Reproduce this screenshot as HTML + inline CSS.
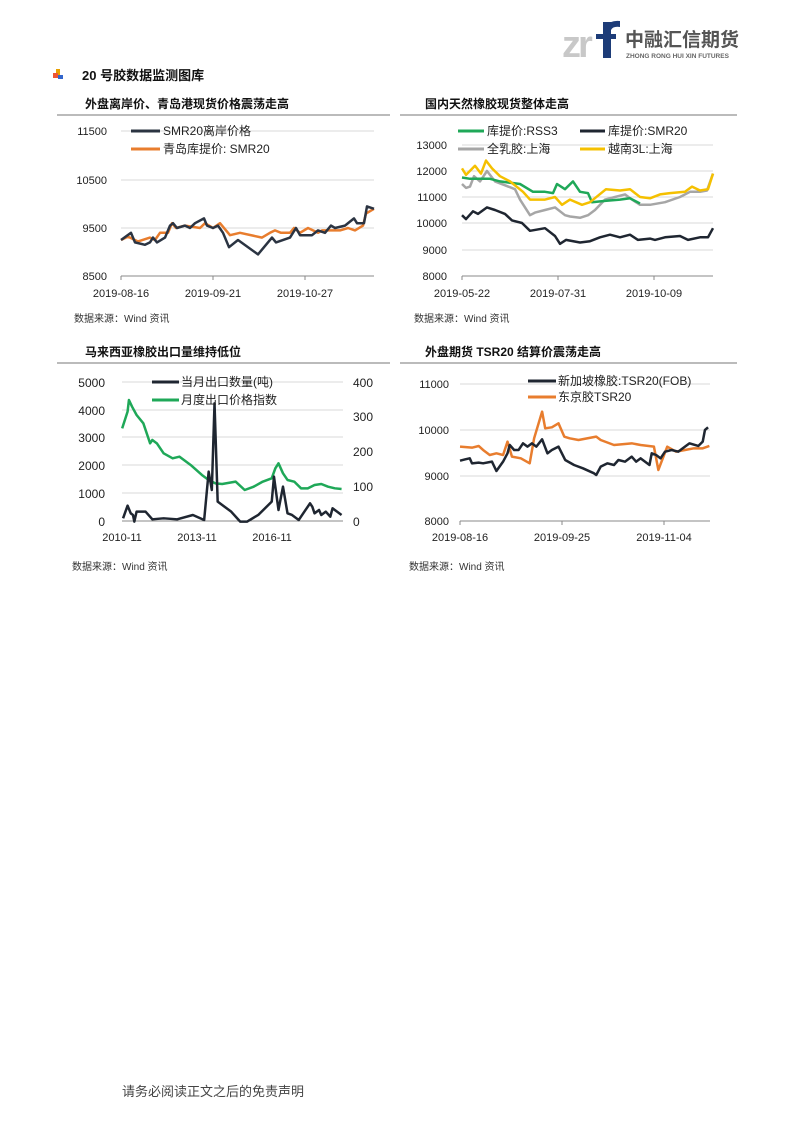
<!DOCTYPE html>
<html><head><meta charset="utf-8"><style>
body{margin:0;background:#fff}
svg{display:block}
text{font-family:"Liberation Sans","Noto Sans CJK SC",sans-serif}
.t{font-size:11px;fill:#222}
.h{font-size:12px;font-weight:bold;fill:#111}
.s{font-size:10px;fill:#333}
.g{stroke:#d9d9d9;stroke-width:1}
.l{fill:none;stroke-width:2.5;stroke-linejoin:round;vector-effect:non-scaling-stroke}
</style></head><body>
<svg width="794" height="1123" viewBox="0 0 794 1123">
<!-- logo -->
<text x="562" y="57" style="font-size:38px;font-weight:bold;fill:#c8c8c8;letter-spacing:-3px">zr</text>
<rect x="603" y="22" width="8" height="36" fill="#1d3c78"/>
<rect x="596" y="34" width="20" height="5" fill="#1d3c78"/>
<path d="M607 26 Q610 20 620 21 L620 27 Q613 26 611 30Z" fill="#1d3c78"/>
<text x="625" y="46" style="font-size:19px;font-weight:bold;fill:#555">中融汇信期货</text>
<text x="626" y="58" style="font-size:6.5px;font-weight:bold;fill:#666">ZHONG RONG HUI XIN FUTURES</text>
<!-- section -->
<rect x="56" y="69" width="4" height="8" fill="#e8a000"/><rect x="53" y="73" width="5" height="5" fill="#e53"/><rect x="58" y="75" width="5" height="4" fill="#36c"/>
<text x="82" y="80" style="font-size:13px;font-weight:bold;fill:#111">20 号胶数据监测图库</text>

<!-- chart 1 -->
<text x="85" y="108" class="h">外盘离岸价、青岛港现货价格震荡走高</text>
<line x1="57" y1="115" x2="390" y2="115" stroke="#777"/>
<g class="g"><line x1="121" y1="131" x2="374" y2="131"/><line x1="121" y1="180" x2="374" y2="180"/><line x1="121" y1="228" x2="374" y2="228"/></g>
<line x1="121" y1="276" x2="374" y2="276" stroke="#888"/>
<g stroke="#888"><line x1="121" y1="276" x2="121" y2="280"/><line x1="213" y1="276" x2="213" y2="280"/><line x1="305" y1="276" x2="305" y2="280"/></g>
<g class="t" text-anchor="end"><text x="107" y="135">11500</text><text x="107" y="184">10500</text><text x="107" y="232">9500</text><text x="107" y="280">8500</text></g>
<g class="t" text-anchor="middle"><text x="121" y="297">2019-08-16</text><text x="213" y="297">2019-09-21</text><text x="305" y="297">2019-10-27</text></g>
<g transform="matrix(1 0 0 -0.048 0 684)">
<polyline class="l" stroke="#e87d2e" points="121,9250 128,9320 138,9220 150,9300 155,9250 160,9400 168,9400 172,9600 176,9500 185,9550 200,9500 205,9600 213,9500 220,9600 230,9350 240,9400 262,9300 270,9400 275,9450 281,9400 290,9400 294,9500 300,9400 308,9500 318,9400 322,9450 340,9450 348,9500 355,9450 363,9550 366,9800 374,9900"/>
<polyline class="l" stroke="#2b3442" points="121,9250 131,9400 135,9200 145,9150 150,9200 153,9300 157,9200 165,9300 170,9550 173,9600 177,9500 185,9550 190,9500 195,9600 204,9700 207,9550 213,9500 218,9550 223,9400 229,9100 238,9250 258,8950 264,9100 272,9300 276,9200 290,9300 296,9500 300,9350 312,9350 318,9450 325,9400 331,9550 335,9500 345,9550 354,9700 357,9600 364,9600 367,9950 374,9900"/>
</g>
<line x1="131" y1="131" x2="160" y2="131" stroke="#2b3442" stroke-width="3"/><text x="163" y="135" style="font-size:12px;fill:#222">SMR20离岸价格</text>
<line x1="131" y1="149" x2="160" y2="149" stroke="#e87d2e" stroke-width="3"/><text x="163" y="153" style="font-size:12px;fill:#222">青岛库提价: SMR20</text>
<text x="74" y="322" class="s">数据来源：Wind 资讯</text>

<!-- chart 2 -->
<text x="425" y="108" class="h">国内天然橡胶现货整体走高</text>
<line x1="400" y1="115" x2="737" y2="115" stroke="#777"/>
<g class="g"><line x1="462" y1="145" x2="713" y2="145"/><line x1="462" y1="171" x2="713" y2="171"/><line x1="462" y1="197" x2="713" y2="197"/><line x1="462" y1="223" x2="713" y2="223"/><line x1="462" y1="250" x2="713" y2="250"/></g>
<line x1="462" y1="276" x2="713" y2="276" stroke="#888"/>
<g stroke="#888"><line x1="462" y1="276" x2="462" y2="280"/><line x1="558" y1="276" x2="558" y2="280"/><line x1="654" y1="276" x2="654" y2="280"/></g>
<g class="t" text-anchor="end"><text x="447" y="149">13000</text><text x="447" y="175">12000</text><text x="447" y="201">11000</text><text x="447" y="227">10000</text><text x="447" y="254">9000</text><text x="447" y="280">8000</text></g>
<g class="t" text-anchor="middle"><text x="462" y="297">2019-05-22</text><text x="558" y="297">2019-07-31</text><text x="654" y="297">2019-10-09</text></g>
<g transform="matrix(1 0 0 -0.026 0 483)">
<polyline class="l" stroke="#a6a6a6" points="462,11500 466,11350 470,11400 474,11800 480,11600 487,12000 495,11600 505,11450 515,11300 520,10900 530,10300 535,10400 545,10500 555,10600 565,10300 570,10250 580,10200 588,10300 595,10500 605,10900 615,11000 625,11100 632,10900 640,10700 650,10700 665,10800 680,11000 690,11200 700,11200 707,11250 713,11900"/>
<polyline class="l" stroke="#1fa858" points="462,11750 470,11700 490,11700 500,11600 520,11500 533,11200 545,11200 553,11150 557,11500 565,11300 573,11600 580,11200 588,11150 592,10800 605,10850 620,10900 630,10950 640,10750"/>
<polyline class="l" stroke="#f5c000" points="462,12100 466,11850 475,12200 481,11900 486,12400 492,12100 500,11800 510,11600 523,11200 530,10900 545,10900 555,11000 562,10700 570,10900 582,10700 590,10800 606,11300 620,11250 630,11300 640,11000 650,10950 660,11100 670,11150 685,11200 692,11400 700,11250 708,11300 713,11900"/>
<polyline class="l" stroke="#1f2631" points="462,10300 466,10150 473,10450 478,10350 487,10600 495,10500 505,10350 512,10100 522,10000 530,9700 545,9800 555,9500 560,9200 566,9350 580,9250 590,9300 600,9450 610,9550 620,9450 630,9550 638,9350 650,9400 655,9350 665,9450 680,9500 688,9350 700,9450 708,9450 713,9800"/>
</g>
<line x1="458" y1="131" x2="484" y2="131" stroke="#1fa858" stroke-width="3"/><text x="487" y="135" style="font-size:12px;fill:#222">库提价:RSS3</text>
<line x1="580" y1="131" x2="605" y2="131" stroke="#1f2631" stroke-width="3"/><text x="608" y="135" style="font-size:12px;fill:#222">库提价:SMR20</text>
<line x1="458" y1="149" x2="484" y2="149" stroke="#a6a6a6" stroke-width="3"/><text x="487" y="153" style="font-size:12px;fill:#222">全乳胶:上海</text>
<line x1="580" y1="149" x2="605" y2="149" stroke="#f5c000" stroke-width="3"/><text x="608" y="153" style="font-size:12px;fill:#222">越南3L:上海</text>
<text x="414" y="322" class="s">数据来源：Wind 资讯</text>

<!-- chart 3 -->
<text x="85" y="356" class="h">马来西亚橡胶出口量维持低位</text>
<line x1="57" y1="363" x2="390" y2="363" stroke="#777"/>
<g class="g"><line x1="122" y1="382" x2="343" y2="382"/><line x1="122" y1="410" x2="343" y2="410"/><line x1="122" y1="437" x2="343" y2="437"/><line x1="122" y1="465" x2="343" y2="465"/><line x1="122" y1="493" x2="343" y2="493"/></g>
<line x1="122" y1="521" x2="343" y2="521" stroke="#888"/>
<g style="font-size:12px;fill:#222" text-anchor="end"><text x="105" y="387">5000</text><text x="105" y="415">4000</text><text x="105" y="442">3000</text><text x="105" y="470">2000</text><text x="105" y="498">1000</text><text x="105" y="526">0</text></g>
<g style="font-size:12px;fill:#222"><text x="353" y="387">400</text><text x="353" y="421">300</text><text x="353" y="456">200</text><text x="353" y="491">100</text><text x="353" y="526">0</text></g>
<g class="t" text-anchor="middle"><text x="122" y="541">2010-11</text><text x="197" y="541">2013-11</text><text x="272" y="541">2016-11</text></g>
<g transform="matrix(0.4505 0 0 0.3333 60 340)">
<polyline class="l" stroke="#1fa858" points="138,265 150,215 153,180 160,200 170,225 185,250 195,290 200,310 205,300 215,310 230,340 250,355 265,350 290,375 315,405 330,420 345,430 360,432 390,425 410,450 430,440 450,425 470,415 478,385 485,370 495,400 505,420 520,425 535,445 550,445 565,435 580,432 595,440 610,445 625,447"/>
<polyline class="l" stroke="#1f2631" points="140,535 150,497 157,520 162,525 165,545 170,515 190,515 205,538 230,535 260,538 295,525 320,540 330,395 337,450 343,190 350,485 380,515 400,545 415,545 440,525 470,485 475,410 485,510 495,440 505,520 515,525 530,540 545,510 555,490 560,500 565,520 575,510 580,525 590,515 600,530 605,505 615,515 625,525"/>
</g>
<line x1="152" y1="382" x2="179" y2="382" stroke="#1f2631" stroke-width="3"/><text x="181" y="386" style="font-size:12px;fill:#222">当月出口数量(吨)</text>
<line x1="152" y1="400" x2="179" y2="400" stroke="#1fa858" stroke-width="3"/><text x="181" y="404" style="font-size:12px;fill:#222">月度出口价格指数</text>
<text x="72" y="570" class="s">数据来源：Wind 资讯</text>

<!-- chart 4 -->
<text x="425" y="356" class="h">外盘期货 TSR20 结算价震荡走高</text>
<line x1="400" y1="363" x2="737" y2="363" stroke="#777"/>
<g class="g"><line x1="460" y1="384" x2="710" y2="384"/><line x1="460" y1="430" x2="710" y2="430"/><line x1="460" y1="476" x2="710" y2="476"/></g>
<line x1="460" y1="521" x2="710" y2="521" stroke="#888"/>
<g stroke="#888"><line x1="460" y1="521" x2="460" y2="525"/><line x1="562" y1="521" x2="562" y2="525"/><line x1="664" y1="521" x2="664" y2="525"/></g>
<g class="t" text-anchor="end"><text x="449" y="388">11000</text><text x="449" y="434">10000</text><text x="449" y="480">9000</text><text x="449" y="525">8000</text></g>
<g class="t" text-anchor="middle"><text x="460" y="541">2019-08-16</text><text x="562" y="541">2019-09-25</text><text x="664" y="541">2019-11-04</text></g>
<g transform="matrix(0.4437 0 0 0.3333 63.8 340)">
<polyline class="l" stroke="#e87d2e" points="893,320 920,323 935,318 945,330 960,345 975,340 990,345 1000,305 1010,350 1030,355 1050,370 1060,295 1078,215 1085,265 1100,262 1115,250 1128,290 1140,295 1160,300 1200,290 1210,300 1240,315 1280,310 1300,315 1330,320 1340,390 1360,320 1380,335 1400,330 1420,325 1440,325 1455,318"/>
<polyline class="l" stroke="#1f2631" points="893,362 905,358 915,355 920,370 935,368 945,370 965,365 975,393 990,365 1000,340 1005,315 1015,330 1025,330 1035,310 1045,320 1055,310 1065,320 1078,298 1090,340 1100,330 1115,320 1130,360 1150,375 1170,385 1195,400 1200,405 1210,380 1225,370 1240,375 1250,360 1265,365 1280,350 1290,365 1300,355 1320,375 1325,340 1335,345 1345,355 1355,335 1370,330 1385,335 1400,320 1410,310 1430,318 1440,305 1445,270 1452,262"/>
</g>
<line x1="528" y1="381" x2="556" y2="381" stroke="#1f2631" stroke-width="3"/><text x="558" y="385" style="font-size:12px;fill:#222">新加坡橡胶:TSR20(FOB)</text>
<line x1="528" y1="397" x2="556" y2="397" stroke="#e87d2e" stroke-width="3"/><text x="558" y="401" style="font-size:12px;fill:#222">东京胶TSR20</text>
<text x="409" y="570" class="s">数据来源：Wind 资讯</text>

<text x="122" y="1096" style="font-size:13px;fill:#444">请务必阅读正文之后的免责声明</text>
</svg>
</body></html>
